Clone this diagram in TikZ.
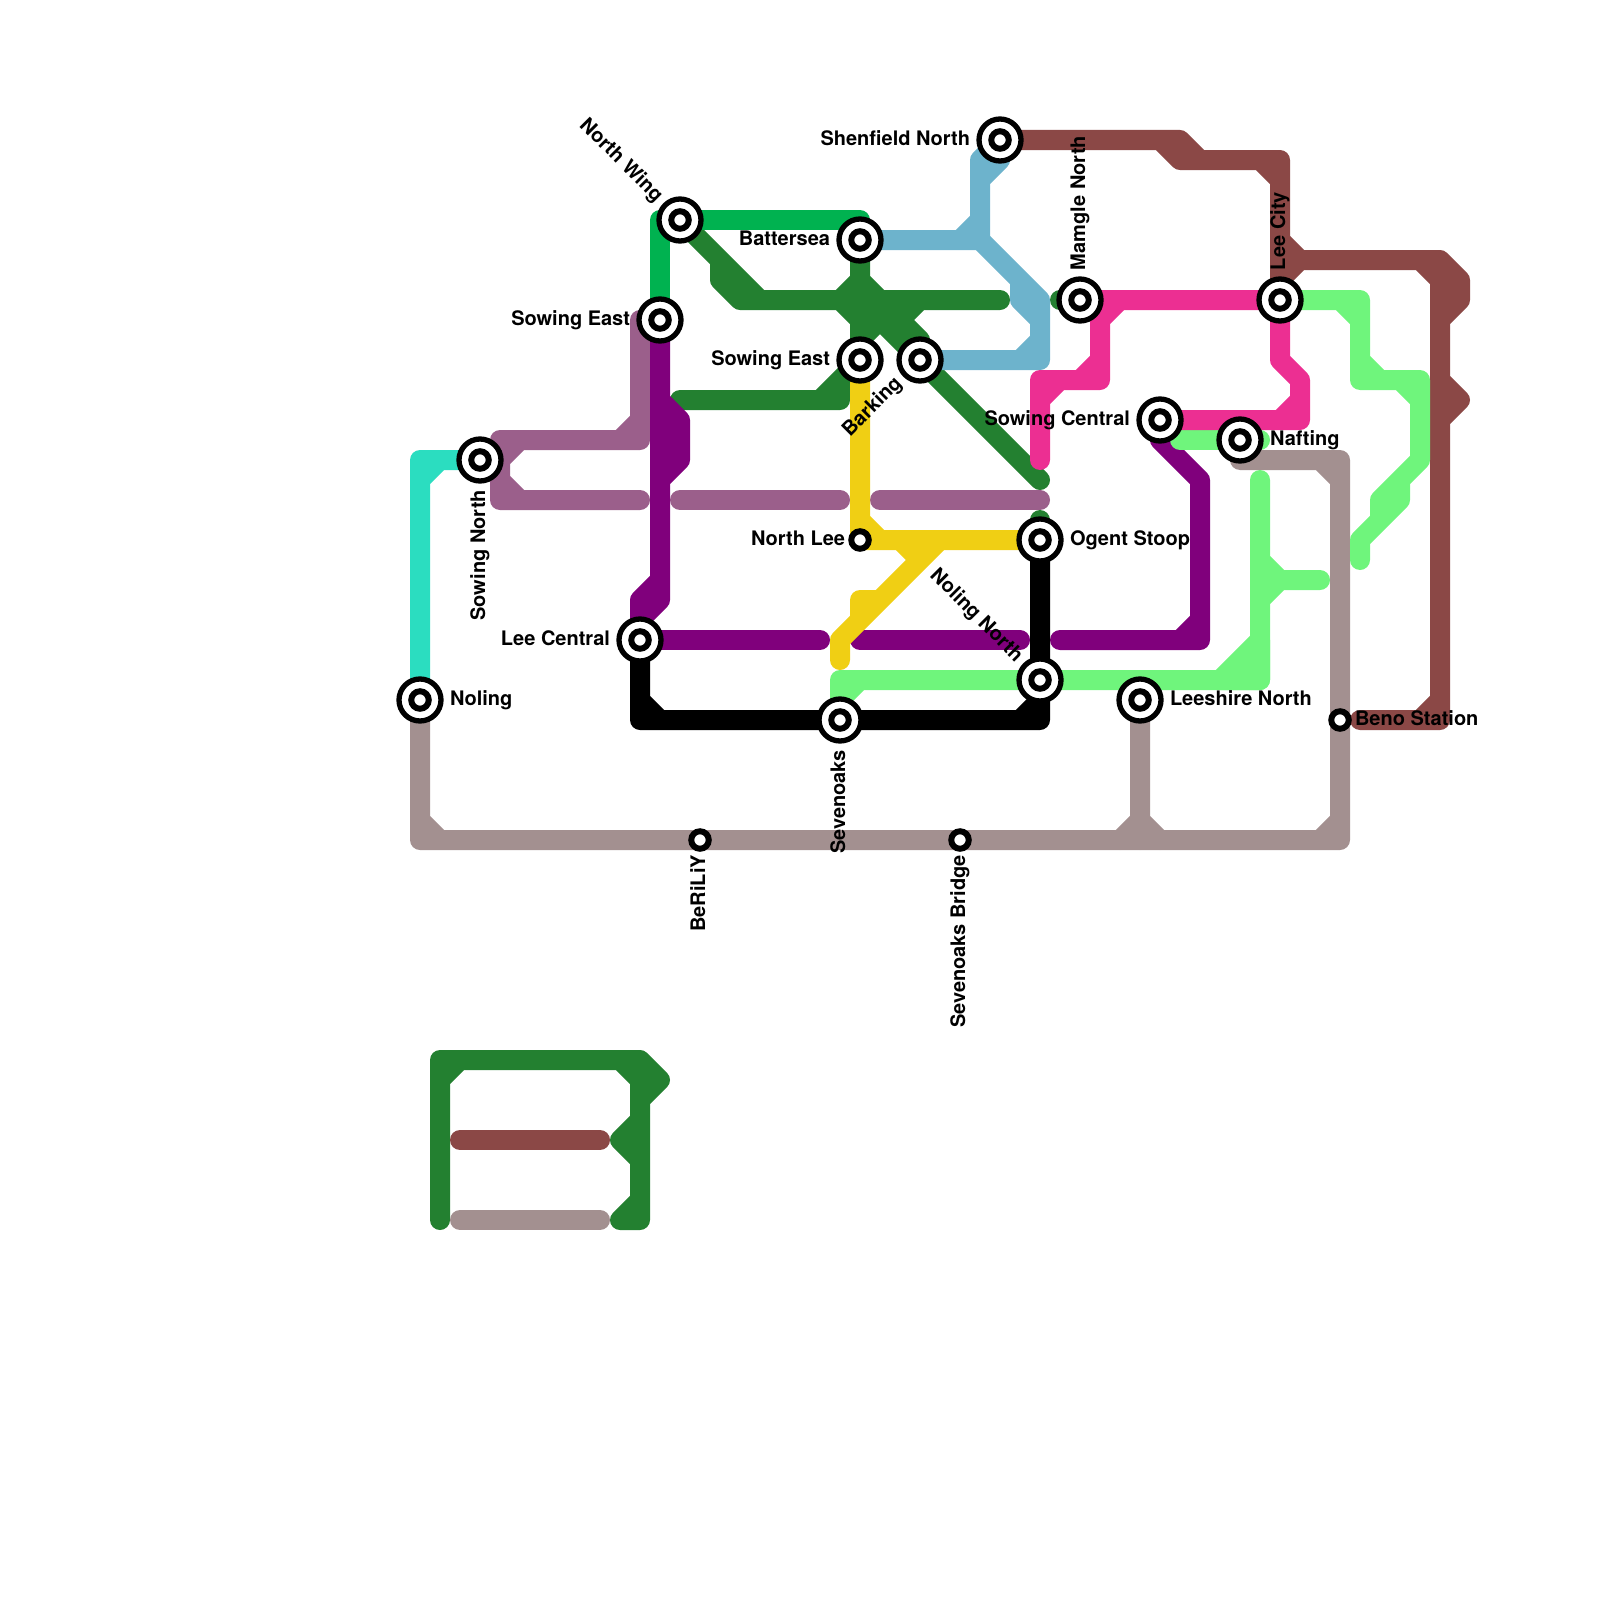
\documentclass[tikz,border=0pt]{standalone}
\usepackage{fontspec}
\setmainfont{TeX Gyre Heros}
\pgfdeclarelayer{lines}
\pgfsetlayers{lines,main}
\definecolor{cTeal}{RGB}{43,221,192}
\definecolor{cMauve}{RGB}{155,95,139}
\definecolor{cPurple}{RGB}{128,0,124}
\definecolor{cDark}{RGB}{35,128,48}
\definecolor{cBright}{RGB}{0,178,80}
\definecolor{cBlue}{RGB}{109,179,204}
\definecolor{cBrown}{RGB}{139,72,70}
\definecolor{cPink}{RGB}{236,47,146}
\definecolor{cLight}{RGB}{111,245,124}
\definecolor{cYellow}{RGB}{240,207,20}
\definecolor{cTaupe}{RGB}{163,144,144}
\tikzset{
  railway/.style={line width=20pt,line cap=round,line join=round},
  hub/.style={circle,draw=black,fill=white,line width=5.3pt,minimum size=42pt,inner sep=0pt,outer sep=0pt,
    path picture={\draw[black,fill=white,line width=6pt] (path picture bounding box.center) circle (8.75pt);}},
  halt/.style={circle,draw=black,fill=white,line width=6pt,minimum size=17.5pt,inner sep=0pt,outer sep=0pt},
  lbl/.style={font=\fontsize{20}{24}\selectfont\bfseries,inner sep=0pt,outer sep=0pt,text=black}
}
\begin{document}
\begin{tikzpicture}[x=1pt,y=-1pt]
\useasboundingbox (0,0) rectangle (1600,1600);
% stations
\node[hub] (noling) at (420,700) {};
\node[hub] (sowingN) at (480,460) {};
\node[hub] (northWing) at (680,220) {};
\node[hub] (sowingEa) at (660,320) {};
\node[hub] (leeCentral) at (640,640) {};
\node[hub] (battersea) at (860,240) {};
\node[hub] (sowingEb) at (860,360) {};
\node[hub] (barking) at (920,360) {};
\node[hub] (shenfield) at (1000,140) {};
\node[hub] (mamgle) at (1080,300) {};
\node[hub] (leeCity) at (1280,300) {};
\node[hub] (sowingC) at (1160,420) {};
\node[hub] (nafting) at (1240,440) {};
\node[hub] (ogent) at (1040,540) {};
\node[hub] (nolingN) at (1040,680) {};
\node[hub] (sevenoaks) at (840,720) {};
\node[hub] (leeshire) at (1140,700) {};
\node[halt] (northLee) at (860,540) {};
\node[halt] (beno) at (1340,720) {};
\node[halt] (beriliy) at (700,840) {};
\node[halt] (sevBridge) at (960,840) {};
% labels
\node[lbl,anchor=mid west] (tNoling) at (450,702.5) {Noling};
\node[lbl,anchor=mid east,rotate=90] (tSowingN) at (482.5,490) {Sowing North};
\node[lbl,anchor=mid east,rotate=-45] (tNorthWing) at (657.2,200.8) {North Wing};
\node[lbl,anchor=mid east] (tSowingEa) at (630,322.5) {Sowing East};
\node[lbl,anchor=mid east] (tLeeCentral) at (610,642.5) {Lee Central};
\node[lbl,anchor=mid east] (tBattersea) at (830,242.5) {Battersea};
\node[lbl,anchor=mid east] (tSowingEb) at (830,362.5) {Sowing East};
\node[lbl,anchor=mid east,rotate=45] (tBarking) at (900.8,382.8) {Barking};
\node[lbl,anchor=mid east] (tShenfield) at (970,142.5) {Shenfield North};
\node[lbl,anchor=mid west,rotate=90] (tMamgle) at (1082.5,270) {Mamgle North};
\node[lbl,anchor=mid west,rotate=90] (tLeeCity) at (1282.5,270) {Lee City};
\node[lbl,anchor=mid east] (tSowingC) at (1130,422.5) {Sowing Central};
\node[lbl,anchor=mid west] (tNafting) at (1270,442.5) {Nafting};
\node[lbl,anchor=mid west] (tOgent) at (1070,542.5) {Ogent Stoop};
\node[lbl,anchor=mid east,rotate=-45] (tNolingN) at (1017.2,660.8) {Noling North};
\node[lbl,anchor=mid east,rotate=90] (tSevenoaks) at (842.5,750) {Sevenoaks};
\node[lbl,anchor=mid west] (tLeeshire) at (1170,702.5) {Leeshire North};
\node[lbl,anchor=mid east] (tNorthLee) at (845,542.5) {North Lee};
\node[lbl,anchor=mid west] (tBeno) at (1355,722.5) {Beno Station};
\node[lbl,anchor=mid east,rotate=90] (tBeriliy) at (702.5,855) {BeRiLiY};
\node[lbl,anchor=mid east,rotate=90] (tSevBridge) at (962.5,855) {Sevenoaks Bridge};
\begin{pgfonlayer}{lines}
% dark green
\draw[railway,cDark] (northWing.center) -- (760,300) -- (1000,300)
  (northWing.center) -- (720,260) -- (720,280) -- (740,300) -- (760,300)
  (battersea.center) -- (sowingEb.center)
  (860,280) -- (840,300) -- (860,320)
  (860,280) -- (880,300) -- (920,340) -- (barking.center)
  (860,300) -- (barking.center) -- (1040,480)
  (860,340) -- (900,300) (920,300) -- (900,320);
\draw[railway,cDark] (680,400) -- (840,400) -- (840,380) -- (sowingEb.center) (820,400) -- (840,380);
\draw[railway,cDark] (1040,520) -- (ogent.center);
\draw[railway,cDark] (1060,300) -- (mamgle.center);
% second dark green group, lower left
\draw[railway,cDark] (440,1220) -- (440,1060) -- (640,1060) -- (660,1080) -- (640,1100) -- (640,1220) -- (620,1220)
  (440,1080) -- (460,1060) (620,1060) -- (640,1080) -- (640,1100)
  (640,1120) -- (620,1140) -- (640,1160) (640,1200) -- (620,1220);
\draw[railway,cBrown] (460,1140) -- (600,1140);
\draw[railway,cTaupe] (460,1220) -- (600,1220);
% mauve
\draw[railway,cMauve] (sowingEa.center) ++(-20,0) -- (640,440) -- (500,440) -- (500,500) -- (640,500)
  (640,420) -- (620,440) (500,460) -- (520,440) (500,480) -- (520,500);
\draw[railway,cMauve] (680,500) -- (840,500);
\draw[railway,cMauve] (880,500) -- (1040,500);
% purple
\draw[railway,cPurple] (sowingEa.center) -- (660,600) -- (640,620) -- (leeCentral.center)
  (660,580) -- (640,600) -- (leeCentral.center)
  (660,400) -- (680,420) -- (680,460) -- (660,480);
\draw[railway,cPurple] (leeCentral.center) -- (820,640);
\draw[railway,cPurple] (860,640) -- (1020,640);
\draw[railway,cPurple] (sowingC.center) -- (1160,440) -- (1200,480) -- (1200,640) -- (1060,640) (1200,620) -- (1180,640);
% black
\draw[railway,black] (leeCentral.center) -- (640,720) -- (sevenoaks.center) -- (1040,720) -- (nolingN.center) -- (ogent.center)
  (640,700) -- (660,720) (1020,720) -- (1040,700);
% taupe
\draw[railway,cTaupe] (noling.center) -- (420,840) -- (1340,840) -- (1340,460) -- (1240,460) -- (nafting.center)
  (420,820) -- (440,840) (1340,820) -- (1320,840) (1320,460) -- (1340,480);
\draw[railway,cTaupe] (leeshire.center) -- (1140,840) (1140,820) -- (1120,840) (1140,820) -- (1160,840);
% teal
\draw[railway,cTeal] (noling.center) -- (420,460) -- (sowingN.center) (420,480) -- (440,460);
% bright green
\draw[railway,cBright] (sowingEa.center) -- (660,220) -- (860,220) -- (battersea.center);
% light blue
\draw[railway,cBlue] (shenfield.center) -- (1000,160) -- (980,180) -- (980,240) -- (battersea.center)
  (shenfield.center) -- (980,160) -- (980,180) (980,220) -- (960,240);
\draw[railway,cBlue] (980,240) -- (1040,300) -- (1040,360) -- (barking.center)
  (1020,280) -- (1020,300) -- (1040,320) (1040,340) -- (1020,360);
% brown
\draw[railway,cBrown] (shenfield.center) -- (1180,140) -- (1200,160) -- (1280,160) -- (leeCity.center)
  (1160,140) -- (1180,160) -- (1200,160) (1260,160) -- (1280,180);
\draw[railway,cBrown] (1280,240) -- (1300,260) -- (1440,260) -- (1460,280) -- (1460,300) -- (1440,320) -- (1440,720) -- (1360,720)
  (leeCity.center) ++(0,-20) -- (1300,260) (1420,260) -- (1440,280) -- (1440,320)
  (1440,380) -- (1460,400) -- (1440,420) (1440,700) -- (1420,720);
% light green
\draw[railway,cLight] (leeCity.center) -- (1360,300) -- (1360,380) -- (1420,380) -- (1420,460) -- (1400,480) -- (1400,500) -- (1360,540) -- (1360,560)
  (1340,300) -- (1360,320) (1360,360) -- (1380,380) (1400,380) -- (1420,400)
  (1420,460) -- (1380,500) -- (1380,520) -- (1360,540);
\draw[railway,cLight] (1260,480) -- (1260,680) -- (840,680) -- (sevenoaks.center)
  (860,680) -- (840,700)
  (1260,560) -- (1280,580) -- (1260,600) (1280,580) -- (1320,580);
\draw[railway,cLight,fill=cLight] (1260,640) -- (1260,680) -- (1220,680) -- cycle;
\draw[railway,cLight] (1180,440) -- (1260,440);
% pink
\draw[railway,cPink] (mamgle.center) -- (leeCity.center) -- (1280,360) -- (1300,380) -- (1300,420) -- (sowingC.center)
  (1300,400) -- (1280,420);
\draw[railway,cPink] (1100,300) -- (1100,380) -- (1040,380) -- (1040,460)
  (1120,300) -- (1100,320) (1100,360) -- (1080,380) (1060,380) -- (1040,400);
% yellow
\draw[railway,cYellow] (sowingEb.center) -- (northLee.center) -- (ogent.center) (860,520) -- (880,540);
\draw[railway,cYellow] (940,540) -- (840,640) -- (840,660) (900,540) -- (920,560) (860,620) -- (860,600) -- (880,600);
\end{pgfonlayer}
\end{tikzpicture}
\end{document}
